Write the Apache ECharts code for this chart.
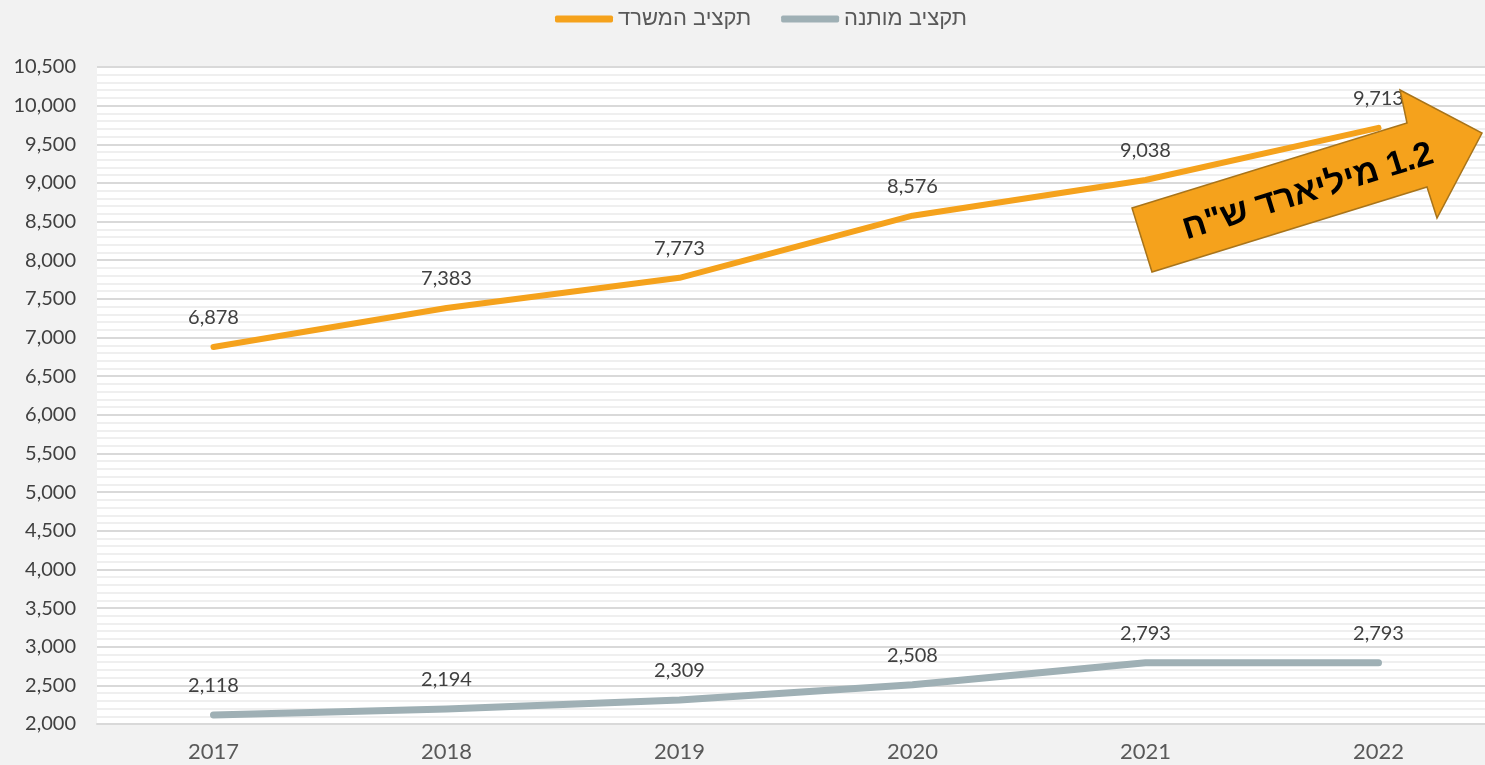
<!DOCTYPE html>
<html>
<head>
<meta charset="utf-8">
<script src="https://cdn.jsdelivr.net/npm/echarts@6/dist/echarts.min.js"></script>
<style>
html,body{margin:0;padding:0;background:#f2f2f2;overflow:hidden;}
#chart{width:1495px;height:765px;}
</style>
</head>
<body>
<div id="chart"></div>
<script>
const categories = ['2017','2018','2019','2020','2021','2022'];
const ministryBudget = [6878, 7383, 7773, 8576, 9038, 9713];
const conditionalBudget = [2118, 2194, 2309, 2508, 2793, 2793];
const seriesNames = ['תקציב המשרד', 'תקציב מותנה'];
const arrowText = '\u200F1.2 מיליארד ש"ח';

const chart = echarts.init(document.getElementById('chart'));
const labelFont = 'Lato, "Open Sans", sans-serif';
chart.setOption({
  backgroundColor: '#f2f2f2',
  animation: false,
  legend: {
    top: 3,
    left: 550,
    itemWidth: 58,
    itemHeight: 7,
    itemGap: 30,
    icon: 'roundRect',
    textStyle: {fontSize: 22, color: '#595959', fontFamily: '"Liberation Sans", Arial, sans-serif'},
    data: seriesNames
  },
  grid: {left: 97, top: 67, bottom: 41, right: 0, show: true, backgroundColor: '#ffffff', borderWidth: 0, containLabel: false},
  xAxis: {
    type: 'category',
    data: categories,
    boundaryGap: true,
    axisLine: {show: true, lineStyle: {color: '#d9d9d9', width: 2}},
    axisTick: {show: false},
    axisLabel: {fontSize: 22, color: '#595959', margin: 17, fontFamily: labelFont}
  },
  yAxis: {
    type: 'value',
    min: 2000,
    max: 10500,
    interval: 500,
    axisLine: {show: false},
    axisTick: {show: false},
    axisLabel: {fontSize: 20, color: '#404040', margin: 21, fontFamily: labelFont,
      formatter: v => v.toLocaleString('en-US')},
    splitLine: {lineStyle: {color: '#d9d9d9', width: 2}},
    minorTick: {show: false, splitNumber: 5},
    minorSplitLine: {show: true, lineStyle: {color: '#efefef', width: 2}}
  },
  series: [
    {
      name: seriesNames[0],
      type: 'line',
      data: ministryBudget,
      symbol: 'circle',
      symbolSize: 1,
      lineStyle: {color: '#f5a21c', width: 6, cap: 'round', join: 'round'},
      itemStyle: {color: '#f5a21c'},
      label: {show: true, position: 'top', distance: 19, fontSize: 20, color: '#404040', fontFamily: labelFont,
        formatter: p => p.value.toLocaleString('en-US')},
      z: 3
    },
    {
      name: seriesNames[1],
      type: 'line',
      data: conditionalBudget,
      symbol: 'circle',
      symbolSize: 1,
      lineStyle: {color: '#9fb0b5', width: 7, cap: 'round', join: 'round'},
      itemStyle: {color: '#9fb0b5'},
      label: {show: true, position: 'top', distance: 19, fontSize: 20, color: '#404040', fontFamily: labelFont,
        formatter: p => p.value.toLocaleString('en-US')},
      z: 2
    }
  ],
  graphic: [
    {
      type: 'polygon',
      z: 100,
      shape: {points: [[1132,208],[1407,123],[1400,90],[1482,133],[1437,218],[1427,187],[1152,272]]},
      style: {fill: '#f5a21c', stroke: '#a8741a', lineWidth: 1.5}
    },
    {
      type: 'text',
      z: 101,
      x: 1308,
      y: 192,
      rotation: 0.30,
      style: {
        text: arrowText,
        fill: '#000000',
        font: 'bold 34px "Liberation Sans", Arial, sans-serif',
        align: 'center',
        verticalAlign: 'middle',
        shadowColor: 'rgba(0,0,0,0.3)',
        shadowBlur: 2,
        shadowOffsetX: 1,
        shadowOffsetY: 1
      }
    }
  ]
});
</script>
</body>
</html>
